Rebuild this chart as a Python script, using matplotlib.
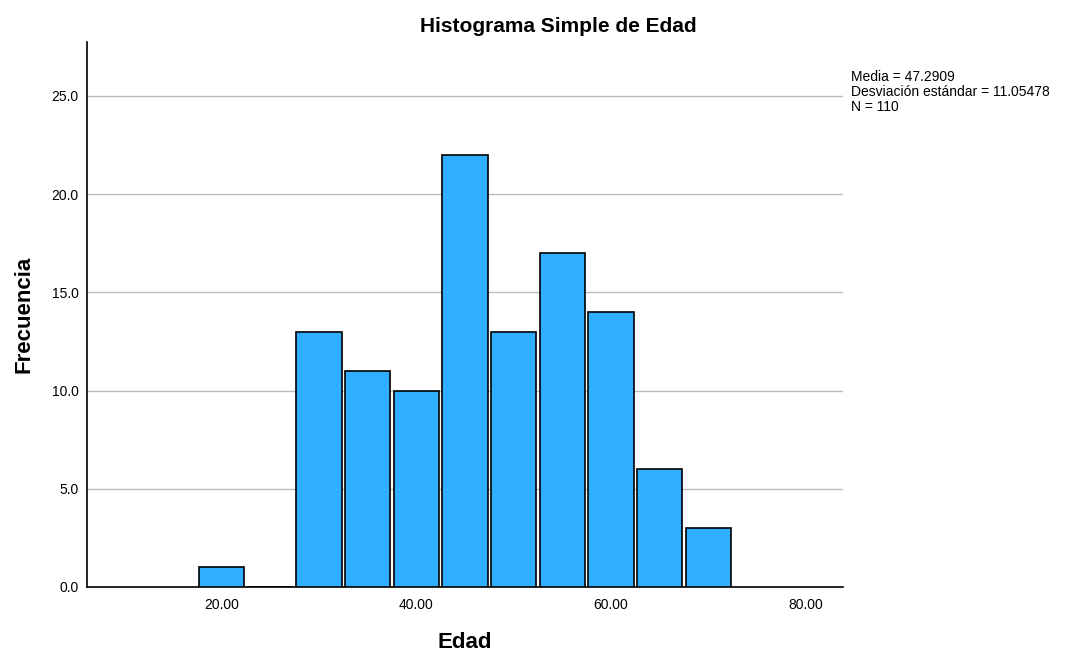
import matplotlib.pyplot as plt

plt.rcParams['font.family'] = ['Liberation Sans', 'DejaVu Sans']

bin_centers = [20, 25, 30, 35, 40, 45, 50, 55, 60, 65, 70]
counts = [1, 0, 13, 11, 10, 22, 13, 17, 14, 6, 3]
x_ticks = [20, 40, 60, 80]
y_ticks = [0, 5, 10, 15, 20, 25]
stats_text = 'Media = 47.2909\nDesviación estándar = 11.05478\nN = 110'

fig = plt.figure(figsize=(10.66, 6.52), dpi=100)
ax = fig.add_axes([0.0816, 0.0997, 0.7092, 0.836])

ax.bar(bin_centers, counts, width=4.65, color='#30AEFF', edgecolor='black',
       linewidth=1.2, zorder=3)

ax.set_xlim(6.2, 83.8)
ax.set_ylim(0, 27.75)
ax.set_xticks(x_ticks)
ax.set_xticklabels([f'{v:.2f}' for v in x_ticks])
ax.set_yticks(y_ticks)
ax.set_yticklabels([f'{v:.1f}' for v in y_ticks])
ax.tick_params(length=0, labelsize=10, pad=6)
ax.tick_params(axis='x', pad=8)

ax.yaxis.grid(True, color='#BBBBBB', linewidth=1, zorder=0)
ax.set_axisbelow(True)
for s in ['top', 'right']:
    ax.spines[s].set_visible(False)
ax.spines['left'].set_linewidth(1.2)
ax.spines['bottom'].set_linewidth(1.2)

fig.text(0.5235, 0.959, 'Histograma Simple de Edad', fontsize=15,
         fontweight='bold', ha='center', va='center')
ax.set_xlabel('Edad', fontsize=16, fontweight='bold', labelpad=14)
ax.set_ylabel('Frecuencia', fontsize=16, fontweight='bold', labelpad=12)

fig.text(0.798, 0.893, stats_text, fontsize=10, va='top', ha='left',
         linespacing=1.1)

plt.savefig('out.png', dpi=100)
